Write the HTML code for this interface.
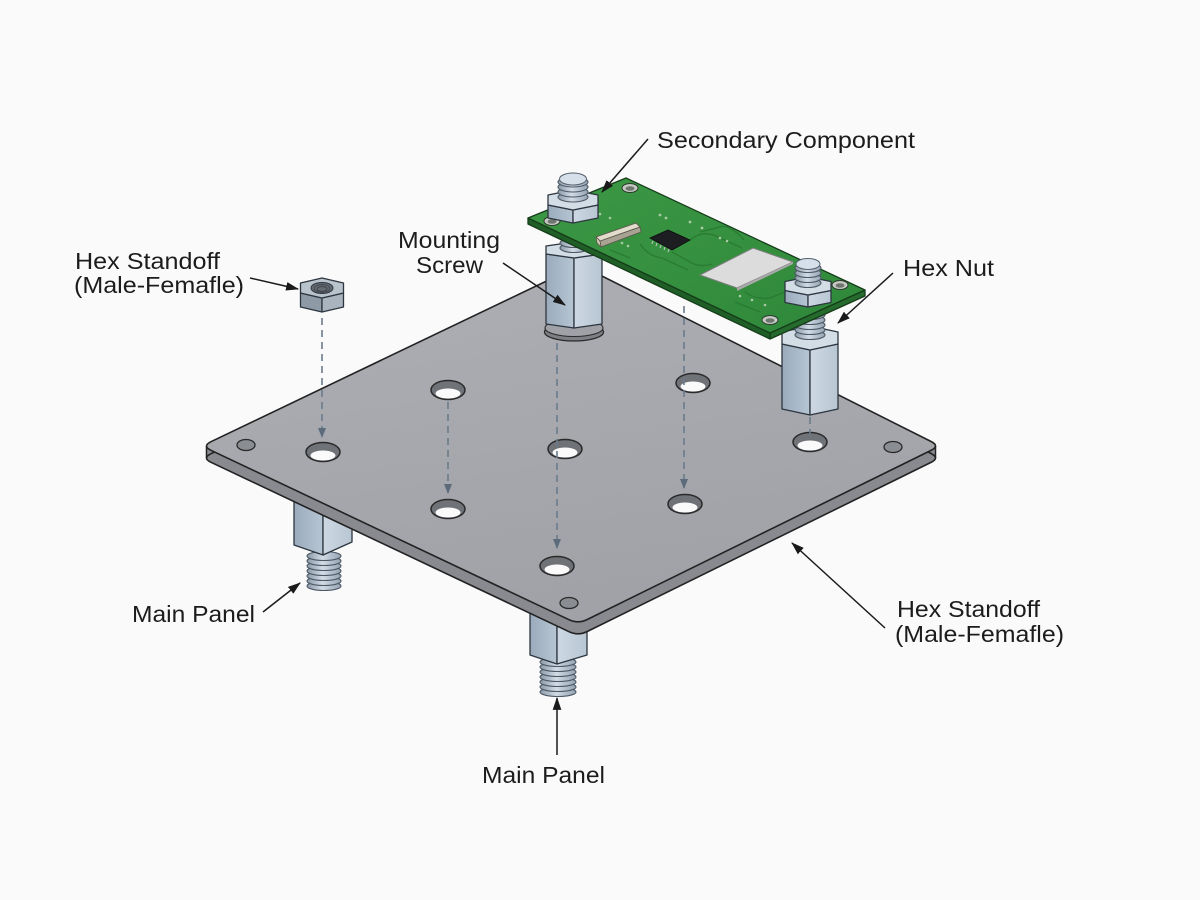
<!DOCTYPE html>
<html>
<head>
<meta charset="utf-8">
<style>
  html,body{margin:0;padding:0;background:#fafafa;}
  svg{display:block;}
  text{font-family:"Liberation Sans",Arial,sans-serif;font-size:23px;fill:#1c1c1c;}
</style>
</head>
<body>
<svg width="1200" height="900" viewBox="0 0 1200 900" xmlns="http://www.w3.org/2000/svg">
  <defs>
    <linearGradient id="plateTop" x1="0" y1="0" x2="0.3" y2="1">
      <stop offset="0" stop-color="#adafb4"/>
      <stop offset="1" stop-color="#a0a2a7"/>
    </linearGradient>
    <linearGradient id="thr" x1="0" y1="0" x2="1" y2="0">
      <stop offset="0" stop-color="#8a99a8"/>
      <stop offset="0.45" stop-color="#d0dbe5"/>
      <stop offset="1" stop-color="#95a4b3"/>
    </linearGradient>
    <linearGradient id="lf" x1="0" y1="0" x2="1" y2="0">
      <stop offset="0" stop-color="#9aabbc"/>
      <stop offset="1" stop-color="#b6c5d3"/>
    </linearGradient>
    <linearGradient id="rf" x1="0" y1="0" x2="1" y2="0">
      <stop offset="0" stop-color="#cdd8e3"/>
      <stop offset="1" stop-color="#b8c6d3"/>
    </linearGradient>
    <linearGradient id="pcb" x1="0" y1="0" x2="1" y2="1">
      <stop offset="0" stop-color="#3b9844"/>
      <stop offset="1" stop-color="#2f883a"/>
    </linearGradient>
    <marker id="ah" viewBox="0 0 12 8" refX="11" refY="4" markerWidth="13" markerHeight="9" orient="auto" markerUnits="userSpaceOnUse">
      <path d="M0,0 L12,4 L0,8 Z" fill="#1a1a1a"/>
    </marker>
    <marker id="dh" viewBox="0 0 10 8" refX="9" refY="4" markerWidth="10" markerHeight="8" orient="auto" markerUnits="userSpaceOnUse">
      <path d="M0,0 L10,4 L0,8 Z" fill="#5b6b7c"/>
    </marker>
  </defs>

  <rect width="1200" height="900" fill="#fafafa"/>

  <!-- ===== Under-plate standoffs ===== -->
  <g stroke="#4d5864" stroke-width="1.1" fill="url(#thr)">
    <ellipse cx="324" cy="586" rx="17" ry="4.5"/>
    <ellipse cx="324" cy="581" rx="17" ry="4.5"/>
    <ellipse cx="324" cy="576" rx="17" ry="4.5"/>
    <ellipse cx="324" cy="571" rx="17" ry="4.5"/>
    <ellipse cx="324" cy="566" rx="17" ry="4.5"/>
    <ellipse cx="324" cy="561" rx="17" ry="4.5"/>
    <ellipse cx="324" cy="556" rx="17" ry="4.5"/>
  </g>
  <g stroke="#2d3640" stroke-width="1.3" stroke-linejoin="round">
    <polygon points="294,490 323,500 323,555 294,545" fill="url(#lf)"/>
    <polygon points="323,500 352,490 352,542 323,555" fill="url(#rf)"/>
  </g>

  <g stroke="#4d5864" stroke-width="1.1" fill="url(#thr)">
    <ellipse cx="558" cy="692" rx="18" ry="4.5"/>
    <ellipse cx="558" cy="687" rx="18" ry="4.5"/>
    <ellipse cx="558" cy="682" rx="18" ry="4.5"/>
    <ellipse cx="558" cy="677" rx="18" ry="4.5"/>
    <ellipse cx="558" cy="672" rx="18" ry="4.5"/>
    <ellipse cx="558" cy="667" rx="18" ry="4.5"/>
    <ellipse cx="558" cy="662" rx="18" ry="4.5"/>
  </g>
  <g stroke="#2d3640" stroke-width="1.3" stroke-linejoin="round">
    <polygon points="530,605 557,615 557,664 530,655" fill="url(#lf)"/>
    <polygon points="557,615 587,605 587,655 557,664" fill="url(#rf)"/>
  </g>

  <!-- ===== Main plate ===== -->
  <polygon points="206.5,446 578,621.8 935.5,446 935.5,458 578,633.8 206.5,458" fill="#8a8c91"/>
  <path transform="translate(0,12)" d="M211,441.7 L580,265 L931.1,441.5 Q940,446 931,450.4 L587,619.6 Q578,624 569,619.7 L211,450.3 Q202,446 211,441.7 Z" fill="#888a8f" stroke="#222" stroke-width="1.6" stroke-linejoin="round"/>
  <line x1="206.5" y1="446" x2="206.5" y2="458" stroke="#222" stroke-width="1.5"/>
  <line x1="935.5" y1="446" x2="935.5" y2="458" stroke="#222" stroke-width="1.5"/>
  <path d="M211,441.7 L580,265 L931.1,441.5 Q940,446 931,450.4 L587,619.6 Q578,624 569,619.7 L211,450.3 Q202,446 211,441.7 Z" fill="url(#plateTop)" stroke="#222" stroke-width="1.6" stroke-linejoin="round"/>

  <!-- holes -->
  <g stroke="#2a2a2a" stroke-width="1.5">
    <ellipse cx="323" cy="452" rx="17" ry="9.5" fill="#6f7277"/>
    <ellipse cx="448" cy="390" rx="17" ry="9.5" fill="#6f7277"/>
    <ellipse cx="565" cy="449" rx="17" ry="9.5" fill="#6f7277"/>
    <ellipse cx="448" cy="509" rx="17" ry="9.5" fill="#6f7277"/>
    <ellipse cx="693" cy="383" rx="17" ry="9.5" fill="#6f7277"/>
    <ellipse cx="685" cy="504" rx="17" ry="9.5" fill="#6f7277"/>
    <ellipse cx="557" cy="566" rx="17" ry="9.5" fill="#6f7277"/>
    <ellipse cx="810" cy="442" rx="17" ry="9.5" fill="#6f7277"/>
  </g>
  <g fill="#fafafa">
    <ellipse cx="323" cy="455.5" rx="12.5" ry="5"/>
    <ellipse cx="448" cy="393.5" rx="12.5" ry="5"/>
    <ellipse cx="565" cy="452.5" rx="12.5" ry="5"/>
    <ellipse cx="448" cy="512.5" rx="12.5" ry="5"/>
    <ellipse cx="693" cy="386.5" rx="12.5" ry="5"/>
    <ellipse cx="685" cy="507.5" rx="12.5" ry="5"/>
    <ellipse cx="557" cy="569.5" rx="12.5" ry="5"/>
    <ellipse cx="810" cy="445.5" rx="12.5" ry="5"/>
  </g>
  <g stroke="#2a2a2a" stroke-width="1.3" fill="#8a8d92">
    <ellipse cx="246" cy="445" rx="9" ry="5.5"/>
    <ellipse cx="893" cy="447" rx="9" ry="5.5"/>
    <ellipse cx="569" cy="603" rx="9" ry="5.5"/>
  </g>

  <!-- dashed guide lines -->
  <g stroke="#6b7b8c" stroke-width="1.6" stroke-dasharray="7 5" fill="none">
    <line x1="322" y1="318" x2="322" y2="437" marker-end="url(#dh)"/>
    <line x1="448" y1="402" x2="448" y2="493" marker-end="url(#dh)"/>
    <line x1="557" y1="343" x2="557" y2="548" marker-end="url(#dh)"/>
    <line x1="684" y1="306" x2="684" y2="488" marker-end="url(#dh)"/>
    <line x1="810" y1="417" x2="810" y2="440"/>
  </g>

  <!-- ===== Floating nut ===== -->
  <g stroke="#2d3640" stroke-width="1.3" stroke-linejoin="round">
    <polygon points="300.5,293 322,298 322,312 300.5,307" fill="#8e9aa6"/>
    <polygon points="322,298 343.5,293 343.5,307 322,312" fill="#a9b4bf"/>
    <polygon points="322,298 300.5,293 300.5,283 322,278 343.5,283 343.5,293" fill="#b9c3cc"/>
  </g>
  <ellipse cx="322" cy="288" rx="11" ry="5.5" fill="#656b72" stroke="#2d3640" stroke-width="1"/>
  <ellipse cx="322" cy="288.5" rx="8" ry="3.8" fill="none" stroke="#3b4046" stroke-width="0.8"/>
  <ellipse cx="322" cy="289" rx="5" ry="2.3" fill="none" stroke="#3b4046" stroke-width="0.8"/>

  <!-- ===== Left on-plate standoff ===== -->
  <ellipse cx="574" cy="332" rx="29.5" ry="9" fill="#7d7f84" stroke="#2a2a2a" stroke-width="1.3"/>
  <ellipse cx="574" cy="328" rx="29" ry="8.5" fill="#9fa1a6" stroke="#2a2a2a" stroke-width="1.1"/>
  <g stroke="#2d3640" stroke-width="1.3" stroke-linejoin="round">
    <polygon points="546,254 574,258 574,328 546,324" fill="url(#lf)"/>
    <polygon points="574,258 602,254 602,324 574,328" fill="url(#rf)"/>
    <polygon points="574,258 546,254 546,246 574,242 602,246 602,254" fill="#d3dde6"/>
  </g>
  <g stroke="#4d5864" stroke-width="1.1" fill="url(#thr)">
    <ellipse cx="574" cy="248" rx="14" ry="4.5"/>
    <ellipse cx="574" cy="243" rx="14" ry="4.5"/>
    <ellipse cx="574" cy="238" rx="14" ry="4.5"/>
    <ellipse cx="574" cy="233" rx="14" ry="4.5"/>
  </g>

  <!-- ===== Right on-plate standoff ===== -->
  <g stroke="#2d3640" stroke-width="1.3" stroke-linejoin="round">
    <polygon points="782,344 810,350 810,415 782,409" fill="url(#lf)"/>
    <polygon points="810,350 838,344 838,409 810,415" fill="url(#rf)"/>
    <polygon points="810,350 782,344 782,332 810,326 838,332 838,344" fill="#d3dde6"/>
  </g>
  <g stroke="#4d5864" stroke-width="1.1" fill="url(#thr)">
    <ellipse cx="810" cy="335" rx="15" ry="4.5"/>
    <ellipse cx="810" cy="330" rx="15" ry="4.5"/>
    <ellipse cx="810" cy="325" rx="15" ry="4.5"/>
    <ellipse cx="810" cy="320" rx="15" ry="4.5"/>
    <ellipse cx="810" cy="315" rx="15" ry="4.5"/>
  </g>

  <!-- ===== PCB ===== -->
  <g stroke="#163d1a" stroke-width="1.3" stroke-linejoin="round">
    <polygon points="528,218 770,333 770,339 528,224" fill="#1f5f27"/>
    <polygon points="770,333 865,290 865,296 770,339" fill="#256b2d"/>
    <polygon points="528,218 626,178 865,290 770,333" fill="url(#pcb)"/>
  </g>
  <!-- traces -->
  <g fill="none" stroke="#2a7a32" stroke-width="1.4" opacity="0.9">
    <path d="M690,240 Q702,230 716,236 L742,248"/>
    <path d="M672,252 L690,262 Q700,268 712,264"/>
    <path d="M640,244 Q648,256 662,258 L688,270"/>
    <path d="M700,232 L724,226 Q736,230 744,240"/>
    <path d="M745,292 Q755,300 770,298 L790,290"/>
    <path d="M610,250 L630,258"/>
    <path d="M735,302 L760,312"/>
  </g>
  <!-- vias -->
  <g fill="#a9c9a5">
    <circle cx="660" cy="215" r="1.4"/><circle cx="666" cy="218" r="1.4"/>
    <circle cx="690" cy="222" r="1.4"/><circle cx="702" cy="228" r="1.4"/>
    <circle cx="622" cy="243" r="1.3"/><circle cx="628" cy="246" r="1.3"/>
    <circle cx="720" cy="238" r="1.3"/><circle cx="727" cy="241" r="1.3"/>
    <circle cx="740" cy="296" r="1.3"/><circle cx="752" cy="300" r="1.3"/>
    <circle cx="600" cy="214" r="1.3"/><circle cx="610" cy="218" r="1.3"/>
    <circle cx="765" cy="305" r="1.3"/><circle cx="790" cy="300" r="1.3"/>
  </g>
  <!-- mounting holes on pcb -->
  <g stroke="#2d3a2d" stroke-width="1">
    <ellipse cx="630" cy="188" rx="8" ry="4.5" fill="#c5cac5"/>
    <ellipse cx="552" cy="221" rx="8" ry="4.5" fill="#c5cac5"/>
    <ellipse cx="770" cy="320" rx="8" ry="4.5" fill="#c5cac5"/>
    <ellipse cx="840" cy="285" rx="8" ry="4.5" fill="#c5cac5"/>
  </g>
  <g fill="#6f766f">
    <ellipse cx="630" cy="188.5" rx="4.5" ry="2.3"/>
    <ellipse cx="552" cy="221.5" rx="4.5" ry="2.3"/>
    <ellipse cx="770" cy="320.5" rx="4.5" ry="2.3"/>
    <ellipse cx="840" cy="285.5" rx="4.5" ry="2.3"/>
  </g>
  <!-- connector -->
  <polygon points="600,241 640,227 641,232 601,247" fill="#a9a393" stroke="#5f5a4e" stroke-width="0.9"/>
  <polygon points="596,237 636,223 640,227 600,241" fill="#e2dccd" stroke="#5f5a4e" stroke-width="0.9"/>
  <polygon points="596,237 600,241 601,247 597,243" fill="#cfc8b6" stroke="#5f5a4e" stroke-width="0.8"/>
  <!-- chip -->
  <polygon points="650,238 668,230 690,240 672,250" fill="#1c1e21" stroke="#0d0d0d" stroke-width="0.8"/>
  <g stroke="#c8cbc8" stroke-width="1">
    <line x1="653" y1="241" x2="652" y2="244"/>
    <line x1="657" y1="243" x2="656" y2="246"/>
    <line x1="661" y1="245" x2="660" y2="248"/>
    <line x1="665" y1="247" x2="664" y2="250"/>
    <line x1="669" y1="249" x2="668" y2="252"/>
  </g>
  <!-- module -->
  <polygon points="700,275 753,248 793,262 737,288" fill="#dcdcdc" stroke="#7d7d7d" stroke-width="1"/>
  <polygon points="737,288 793,262 793,264 737,291" fill="#a9a9a9"/>

  <!-- ===== PCB nuts and bolts ===== -->
  <g stroke="#2d3640" stroke-width="1.3" stroke-linejoin="round">
    <polygon points="548,205 573,210 573,223 548,218" fill="url(#lf)"/>
    <polygon points="573,210 598,205 598,218 573,223" fill="url(#rf)"/>
    <polygon points="573,210 548,205 548,195 573,190 598,195 598,205" fill="#d3dde6"/>
  </g>
  <g stroke="#4d5864" stroke-width="1.1" fill="url(#thr)">
    <ellipse cx="573" cy="197" rx="15" ry="5"/>
    <ellipse cx="573" cy="192" rx="15" ry="5"/>
    <ellipse cx="573" cy="187" rx="15" ry="5"/>
    <ellipse cx="573" cy="182" rx="15" ry="5"/>
  </g>
  <ellipse cx="573" cy="179" rx="13.5" ry="6" fill="#d6e0ea" stroke="#56616d" stroke-width="1"/>

  <g stroke="#2d3640" stroke-width="1.3" stroke-linejoin="round">
    <polygon points="785,290.5 808,295 808,307 785,302.5" fill="url(#lf)"/>
    <polygon points="808,295 831,290.5 831,302.5 808,307" fill="url(#rf)"/>
    <polygon points="808,295 785,290.5 785,281.5 808,277 831,281.5 831,290.5" fill="#d3dde6"/>
  </g>
  <g stroke="#4d5864" stroke-width="1.1" fill="url(#thr)">
    <ellipse cx="808" cy="283" rx="13" ry="4.5"/>
    <ellipse cx="808" cy="278" rx="13" ry="4.5"/>
    <ellipse cx="808" cy="273" rx="13" ry="4.5"/>
    <ellipse cx="808" cy="268" rx="13" ry="4.5"/>
  </g>
  <ellipse cx="808" cy="264" rx="12" ry="5.5" fill="#d6e0ea" stroke="#56616d" stroke-width="1"/>

  <!-- ===== Leader arrows ===== -->
  <g stroke="#1a1a1a" stroke-width="1.5" fill="none">
    <line x1="648" y1="139" x2="602" y2="192" marker-end="url(#ah)"/>
    <line x1="893" y1="273" x2="838" y2="323" marker-end="url(#ah)"/>
    <line x1="503" y1="263" x2="565" y2="305" marker-end="url(#ah)"/>
    <line x1="250" y1="278" x2="298" y2="289" marker-end="url(#ah)"/>
    <line x1="263" y1="612" x2="300" y2="583" marker-end="url(#ah)"/>
    <line x1="885" y1="628" x2="792" y2="543" marker-end="url(#ah)"/>
    <line x1="557" y1="755" x2="557" y2="698" marker-end="url(#ah)"/>
  </g>

  <!-- ===== Labels ===== -->
  <text x="657" y="148" textLength="258" lengthAdjust="spacingAndGlyphs">Secondary Component</text>
  <text x="903" y="276" textLength="91" lengthAdjust="spacingAndGlyphs">Hex Nut</text>
  <text x="398" y="248" textLength="102" lengthAdjust="spacingAndGlyphs">Mounting</text>
  <text x="416" y="273" textLength="67" lengthAdjust="spacingAndGlyphs">Screw</text>
  <text x="75" y="269" textLength="145" lengthAdjust="spacingAndGlyphs">Hex Standoff</text>
  <text x="74" y="293" textLength="170" lengthAdjust="spacingAndGlyphs">(Male-Femafle)</text>
  <text x="132" y="622" textLength="123" lengthAdjust="spacingAndGlyphs">Main Panel</text>
  <text x="897" y="617" textLength="143" lengthAdjust="spacingAndGlyphs">Hex Standoff</text>
  <text x="895" y="642" textLength="169" lengthAdjust="spacingAndGlyphs">(Male-Femafle)</text>
  <text x="482" y="783" textLength="123" lengthAdjust="spacingAndGlyphs">Main Panel</text>
</svg>
</body>
</html>
